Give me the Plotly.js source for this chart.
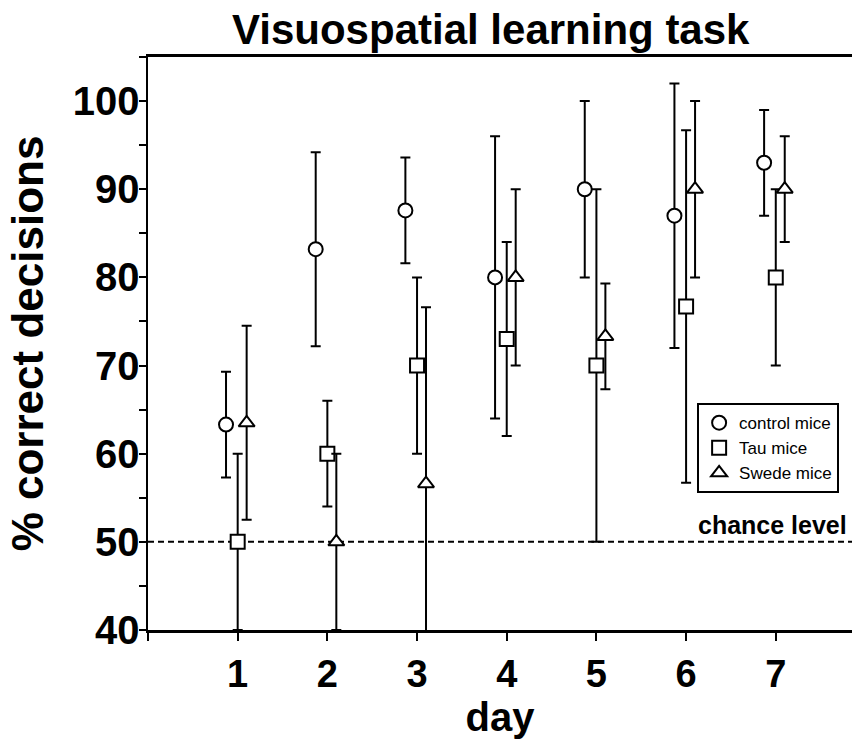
<!DOCTYPE html>
<html>
<head>
<meta charset="utf-8">
<script src="https://cdn.plot.ly/plotly-3.0.1.min.js"></script>
<style>html,body{margin:0;padding:0;background:#fff;}#chart{width:852px;height:739px;}</style>
</head>
<body>
<div id="chart"></div>
<script>
const days = [1, 2, 3, 4, 5, 6, 7];
const dayLabels = ['', '1', '2', '3', '4', '5', '6', '7'];
const controlMean = [63.3, 83.2, 87.6, 80, 90, 87, 93];
const controlErr = [6, 11, 6, 16, 10, 15, 6];
const tauMean = [50, 60, 70, 73, 70, 76.7, 80];
const tauErr = [10, 6, 10, 11, 20, 20, 10];
const swedeMean = [63.5, 50, 56.6, 80, 73.3, 90, 90];
const swedeErr = [11, 10, 20, 10, 6, 10, 6];
const yTicks = [40, 50, 60, 70, 80, 90, 100];
const yAllTicks = [40, 45, 50, 55, 60, 65, 70, 75, 80, 85, 90, 95, 100, 105];
const chanceLevel = 50;

const FONT = 'Liberation Sans, Arial, sans-serif';

function series(name, mean, err, offset, symbol) {
  return {
    type: 'scatter', mode: 'markers', name: name, legendgroup: name,
    x: days.map(d => d + offset), y: mean,
    error_y: {type: 'data', array: err, visible: true, color: '#000', thickness: 2, width: 5},
    marker: {symbol: symbol, size: 14, color: '#fff', line: {color: '#000', width: 2}},
    cliponaxis: true
  };
}

const data = [
  series('control mice', controlMean, controlErr, -0.13, 'circle'),
  series('Tau mice', tauMean, tauErr, 0, 'square'),
  series('Swede mice', swedeMean, swedeErr, 0.1, 'triangle-up')
];

const layout = {
  width: 852, height: 739,
  margin: {l: 148, r: 0, t: 57, b: 109},
  paper_bgcolor: '#fff', plot_bgcolor: '#fff',
  font: {family: FONT, color: '#000'},
  title: {text: 'Visuospatial learning task', font: {family: FONT, size: 42, weight: 'bold', color: '#000'},
          xref: 'container', x: 0.576, xanchor: 'center', yref: 'container', y: 0.98, yanchor: 'top'},
  xaxis: {
    range: [0, 7.85], tickvals: [0].concat(days), ticktext: dayLabels,
    ticks: 'outside', ticklen: 8, tickwidth: 2, tickcolor: '#000',
    showline: true, linewidth: 3, linecolor: '#000', mirror: true,
    showgrid: false, zeroline: false,
    tickfont: {family: FONT, size: 38, weight: 'bold'},
    title: {text: 'day', font: {family: FONT, size: 40, weight: 'bold'}, standoff: 2}
  },
  yaxis: {
    range: [40, 105], tickvals: yTicks,
    ticks: '', ticklabelstandoff: -2,
    minor: {tickvals: yAllTicks, ticks: 'outside', ticklen: 7, tickwidth: 2, tickcolor: '#000', showgrid: false},
    showline: true, linewidth: 2.5, linecolor: '#000',
    showgrid: false, zeroline: false,
    tickfont: {family: FONT, size: 40, weight: 'bold'},
    title: {text: '% correct decisions', font: {family: FONT, size: 44, weight: 'bold'}, standoff: 16}
  },
  showlegend: true,
  legend: {
    x: 0.78, y: 0.396, xanchor: 'left', yanchor: 'top',
    bordercolor: '#000', borderwidth: 2, bgcolor: '#fff',
    traceorder: 'grouped', tracegroupgap: 0,
    font: {family: FONT, size: 17, color: '#000'}
  },
  shapes: [{
    type: 'line', xref: 'paper', x0: 0, x1: 1, yref: 'y', y0: chanceLevel, y1: chanceLevel,
    line: {color: '#000', width: 2, dash: '6px,4px'}, layer: 'below'
  }],
  annotations: [{
    text: 'chance level', xref: 'paper', x: 0.996, xanchor: 'right',
    yref: 'y', y: chanceLevel, yanchor: 'bottom', yshift: 1, showarrow: false,
    font: {family: FONT, size: 25, weight: 'bold', color: '#000'}
  }]
};

Plotly.newPlot('chart', data, layout, {displayModeBar: false, staticPlot: true});
</script>
</body>
</html>
